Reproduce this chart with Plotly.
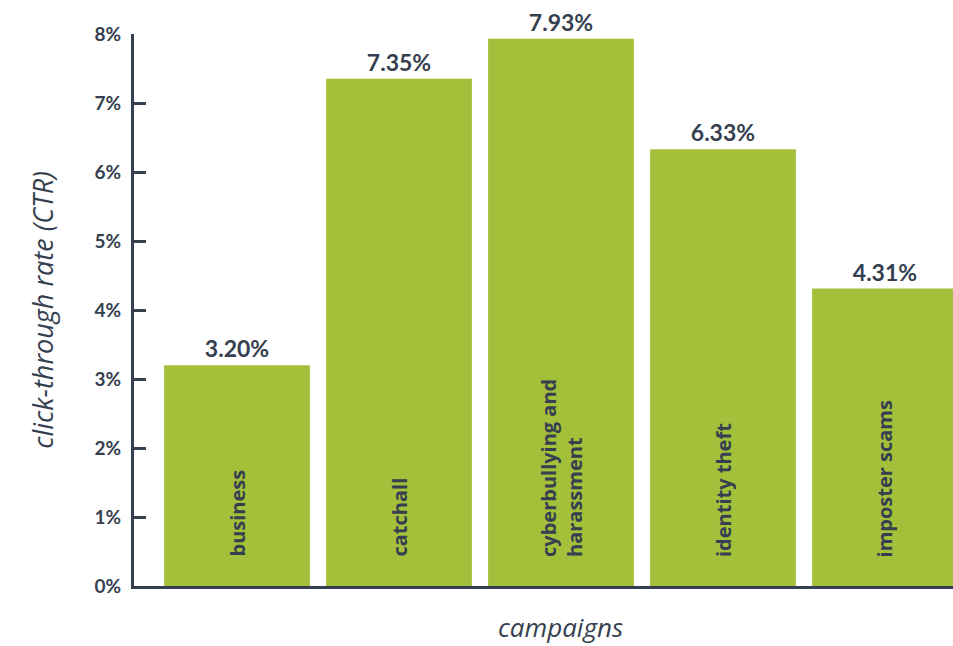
import plotly.graph_objects as go

categories = ["business", "catchall", "cyberbullying and harassment", "identity theft", "imposter scams"]
inside_labels = ["business", "catchall", "cyberbullying and<br>harassment", "identity theft", "imposter scams"]
ctr_values = [3.20, 7.35, 7.93, 6.33, 4.31]
y_tick_values = [0, 1, 2, 3, 4, 5, 6, 7, 8]
y_tick_labels = ["0%", "1%", "2%", "3%", "4%", "5%", "6%", "7%", "8%"]

DARK = "#353f50"
GREEN = "#a4c03a"

fig = go.Figure()
fig.add_trace(go.Bar(
    x=categories,
    y=ctr_values,
    width=0.9,
    marker=dict(color=GREEN, line=dict(width=0)),
    text=[f"{v:.2f}%" for v in ctr_values],
    textposition="outside",
    textfont=dict(family="Lato", size=23, color=DARK, weight="bold"),
    cliponaxis=False,
    hoverinfo="skip",
))

for cat, lab in zip(categories, inside_labels):
    fig.add_annotation(
        x=cat, y=0, xref="x", yref="y",
        text=f"<b>{lab}</b>", textangle=-90, showarrow=False,
        xanchor="center", yanchor="bottom", yshift=27, align="left",
        font=dict(family="Open Sans", size=20, color=DARK),
    )

fig.add_annotation(
    x=categories[2], y=0, xref="x", yref="y",
    text="campaigns", showarrow=False, yshift=-41, yanchor="middle",
    font=dict(family="Open Sans", size=26, color=DARK, style="italic"),
)

fig.update_layout(
    width=953, height=646,
    margin=dict(l=134, r=0, t=34, b=60),
    paper_bgcolor="white", plot_bgcolor="white",
    showlegend=False,
    bargap=0.1,
    xaxis=dict(
        range=[-0.636, 4.42],
        showgrid=False, zeroline=False,
        showline=True, linecolor=DARK, linewidth=3,
        showticklabels=False, ticks="",
    ),
    yaxis=dict(
        range=[0, 8],
        tickvals=y_tick_values, ticktext=y_tick_labels,
        showgrid=False, zeroline=False,
        showline=True, linecolor=DARK, linewidth=3,
        ticks="inside", ticklen=12, tickwidth=3, tickcolor=DARK,
        ticklabelstandoff=6,
        tickfont=dict(family="Lato", size=19, color=DARK, weight="bold"),
        title=dict(text="click-through rate (CTR)", standoff=34,
                   font=dict(family="Open Sans", size=27, color=DARK, style="italic")),
    ),
)

fig.write_html("out.html")
